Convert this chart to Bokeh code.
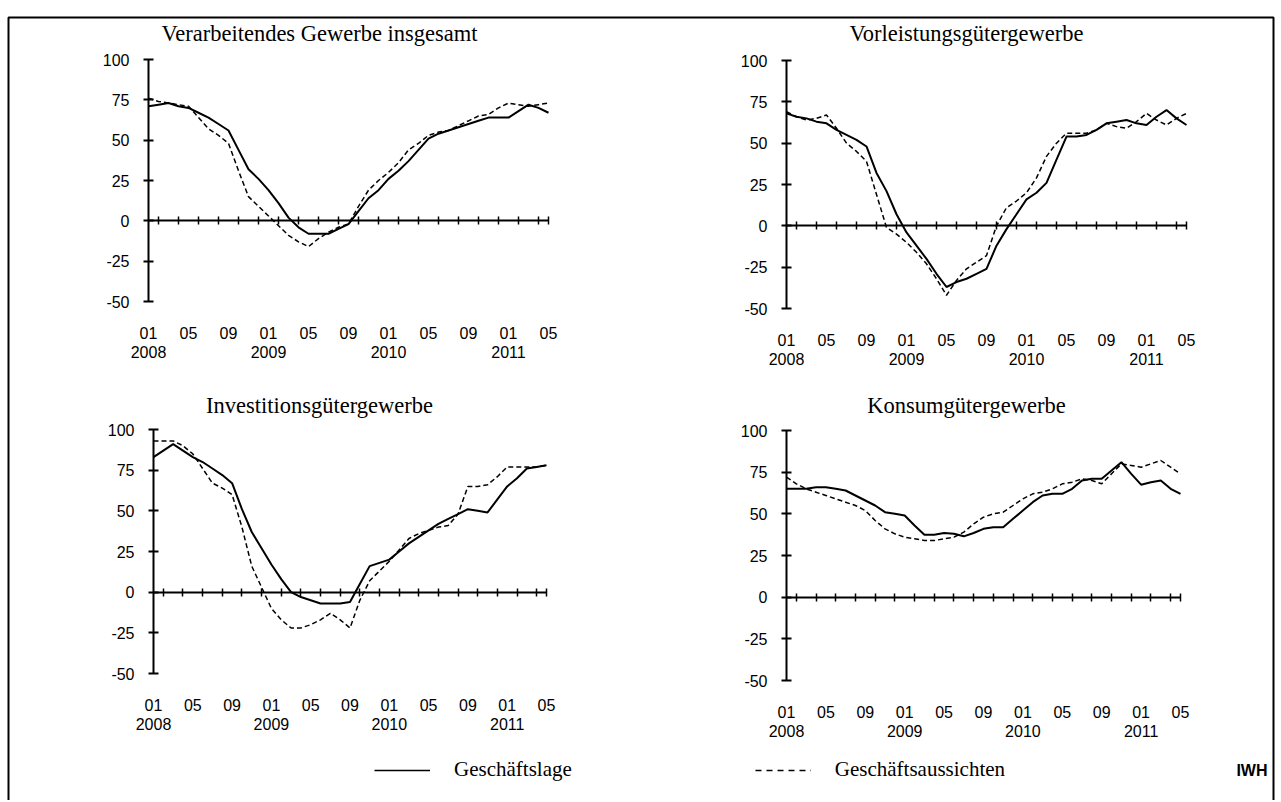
import numpy as np
from bokeh.plotting import figure
from bokeh.models import (Range1d, LinearAxis, FixedTicker, Label, Legend,
                          LegendItem, BoxAnnotation)
from bokeh.embed import file_html
from bokeh.resources import INLINE

# ---------------- data ----------------
# month index: 0 = Jan 2008 ... 40 = May 2011
MONTHS = list(range(41))
MONTH_TICKS = [0, 4, 8, 12, 16, 20, 24, 28, 32, 36, 40]
MONTH_LABELS = ["01", "05", "09", "01", "05", "09", "01", "05", "09", "01", "05"]
YEAR_TICKS = [0, 12, 24, 36]
YEAR_LABELS = ["2008", "2009", "2010", "2011"]
Y_TICKS = [-50, -25, 0, 25, 50, 75, 100]
ZERO_TICKS = [1, 3, 5, 7, 9, 11, 13, 15, 17, 19, 21, 23, 25, 27, 29, 31, 33, 35, 37, 39, 40]

TITLES = ["Verarbeitendes Gewerbe insgesamt", "Vorleistungsgütergewerbe",
          "Investitionsgütergewerbe", "Konsumgütergewerbe"]
SERIES_NAMES = ["Geschäftslage", "Geschäftsaussichten"]

LAGE_VG = [71, 72, 73, 71, 70, 67, 64, 60, 56, 44, 32, 26, 19, 11, 2, -4, -8, -8, -8, -5,
           -2, 6, 14, 19, 26, 31, 37, 44, 51, 54, 56, 58, 60, 62, 64, 64, 64, 68, 72, 70, 67]
AUS_VG = [76, 74, 73, 72, 71, 64, 57, 53, 48, 31, 15, 9, 3, -3, -9, -13, -16, -11, -7, -4,
          -2, 9, 19, 25, 30, 36, 44, 48, 53, 55, 56, 59, 62, 65, 66, 70, 73, 72, 71, 72, 73]

LAGE_VL = [68, 66, 65, 63, 62, 58, 55, 52, 48, 32, 21, 7, -4, -12, -20, -29, -37, -34, -32, -29,
           -26, -12, -2, 7, 16, 20, 26, 40, 54, 54, 55, 58, 62, 63, 64, 62, 61, 66, 70, 65, 61]
AUS_VL = [69, 66, 64, 65, 67, 59, 50, 45, 39, 19, -1, -5, -10, -16, -23, -32, -42, -33, -26, -22,
          -18, 0, 11, 15, 20, 29, 42, 50, 56, 56, 56, 58, 62, 60, 59, 63, 68, 64, 61, 65, 68]

LAGE_IG = [83, 87, 91, 87, 83, 80, 76, 72, 67, 51, 37, 27, 17, 8, 0, -3, -5, -7, -7, -7,
           -6, 5, 16, 18, 20, 25, 30, 34, 38, 42, 45, 48, 51, 50, 49, 57, 65, 70, 76, 77, 78]
AUS_IG = [93, 93, 93, 90, 85, 76, 67, 64, 60, 40, 16, 3, -10, -17, -22, -22, -20, -17, -13, -17,
          -22, -5, 7, 13, 19, 26, 33, 36, 38, 40, 41, 48, 65, 65, 66, 71, 77, 77, 77, 77, 78]

LAGE_KG = [65, 65, 65, 66, 66, 65, 64, 61, 58, 55, 51, 50, 49, 43, 37.5, 37.5, 38.5, 38, 36.5, 38.5,
           41, 42, 42, 47, 52, 57, 61, 62, 62, 65, 70, 71, 71, 76, 81, 74, 67.5, 69, 70, 65, 62]
AUS_KG = [72, 68, 65, 63, 61, 59, 57, 55, 52, 46, 41, 38, 36, 35, 34, 34, 35, 36, 39, 44,
          48, 50, 51, 55, 59, 62, 63, 65, 68, 69, 71, 70, 68, 74, 80, 79, 78, 80, 82, 78, 74]

LAGE = [LAGE_VG, LAGE_VL, LAGE_IG, LAGE_KG]
AUS = [AUS_VG, AUS_VL, AUS_IG, AUS_KG]

# ---------------- layout (pixels) ----------------
W, H = 1276, 800
# L/R: x of first/last month, T/B: y of 100 / -50, (tx, ty): title centre
PANELS = [
    dict(L=148, R=548, T=59, B=301, tx=319, ty=33),
    dict(L=786, R=1186, T=60, B=308, tx=966, ty=33),
    dict(L=153, R=546, T=429, B=673, tx=319, ty=405),
    dict(L=786, R=1180, T=430, B=680, tx=966, ty=405),
]

TICK_FONT = "Liberation Sans"
TEXT_FONT = "Liberation Serif"
TICK_SIZE = "16px"

p = figure(width=W, height=H, x_range=Range1d(0, W), y_range=Range1d(H, 0),
           x_axis_type=None, y_axis_type=None, toolbar_location=None,
           output_backend="svg", min_border=0)
p.outline_line_color = None
p.background_fill_color = "white"
p.border_fill_color = "white"

for i, g in enumerate(PANELS):
    xn, yn = f"x{i}", f"y{i}"
    n_months = MONTHS[-1] - MONTHS[0]
    k = (g["R"] - g["L"]) / n_months
    xs = MONTHS[0] - g["L"] / k
    p.extra_x_ranges[xn] = Range1d(xs, xs + W / k)
    span = Y_TICKS[-1] - Y_TICKS[0]
    ky = (g["B"] - g["T"]) / span
    p.extra_y_ranges[yn] = Range1d(Y_TICKS[-1] - (H - g["T"]) / ky, Y_TICKS[-1] + g["T"] / ky)

    # y axis
    yax = LinearAxis(x_range_name=xn, y_range_name=yn, fixed_location=MONTHS[0],
                     bounds=(Y_TICKS[0], Y_TICKS[-1]),
                     ticker=FixedTicker(ticks=Y_TICKS),
                     major_label_overrides={t: str(t) for t in Y_TICKS})
    yax.axis_line_width = 2
    yax.major_tick_line_width = 2
    yax.major_tick_in = 5
    yax.major_tick_out = 5
    yax.minor_tick_line_color = None
    yax.major_label_standoff = 14
    yax.major_label_text_font = TICK_FONT
    yax.major_label_text_font_size = TICK_SIZE
    yax.major_label_text_color = "black"
    p.add_layout(yax, "left")

    # zero line axis with crossing ticks
    zax = LinearAxis(x_range_name=xn, y_range_name=yn, fixed_location=0,
                     bounds=(MONTHS[0], MONTHS[-1]),
                     ticker=FixedTicker(ticks=ZERO_TICKS),
                     major_label_overrides={t: "" for t in ZERO_TICKS})
    zax.axis_line_width = 2
    zax.major_tick_line_width = 1.5
    zax.major_tick_in = 4
    zax.major_tick_out = 4
    zax.minor_tick_line_color = None
    p.add_layout(zax, "below")

    # month labels
    max_ = LinearAxis(x_range_name=xn, y_range_name=yn, fixed_location=Y_TICKS[0],
                      bounds=(MONTHS[0], MONTHS[-1]),
                      ticker=FixedTicker(ticks=MONTH_TICKS),
                      major_label_overrides=dict(zip(MONTH_TICKS, MONTH_LABELS)))
    max_.axis_line_color = None
    max_.major_tick_line_color = None
    max_.minor_tick_line_color = None
    max_.major_tick_in = 0
    max_.major_tick_out = 0
    max_.major_label_standoff = 25
    max_.major_label_text_font = TICK_FONT
    max_.major_label_text_font_size = TICK_SIZE
    max_.major_label_text_color = "black"
    p.add_layout(max_, "below")

    # year labels
    yrax = LinearAxis(x_range_name=xn, y_range_name=yn, fixed_location=Y_TICKS[0],
                      bounds=(MONTHS[0], MONTHS[-1]),
                      ticker=FixedTicker(ticks=YEAR_TICKS),
                      major_label_overrides=dict(zip(YEAR_TICKS, YEAR_LABELS)))
    yrax.axis_line_color = None
    yrax.major_tick_line_color = None
    yrax.minor_tick_line_color = None
    yrax.major_tick_in = 0
    yrax.major_tick_out = 0
    yrax.major_label_standoff = 44
    yrax.major_label_text_font = TICK_FONT
    yrax.major_label_text_font_size = TICK_SIZE
    yrax.major_label_text_color = "black"
    p.add_layout(yrax, "below")

    p.line(MONTHS, LAGE[i], x_range_name=xn, y_range_name=yn,
           line_color="black", line_width=2)
    p.line(MONTHS, AUS[i], x_range_name=xn, y_range_name=yn,
           line_color="black", line_width=1.5, line_dash="5 3")

    p.add_layout(Label(x=g["tx"], y=g["ty"], text=TITLES[i], text_align="center",
                       text_baseline="middle", text_font=TEXT_FONT,
                       text_font_size="22.5px", text_color="black"))

# legend key renderers: a single point each (draws nothing in the plot),
# they only carry the line style shown in the key
leg_solid = p.line(MONTHS[:1], LAGE_VG[:1], x_range_name="x0", y_range_name="y0",
                   line_color="black", line_width=1.5)
leg_dash = p.line(MONTHS[:1], AUS_VG[:1], x_range_name="x0", y_range_name="y0",
                  line_color="black", line_width=1.5, line_dash="6 5")

legend = Legend(items=[LegendItem(label=SERIES_NAMES[0], renderers=[leg_solid]),
                       LegendItem(label=SERIES_NAMES[1], renderers=[leg_dash])],
                orientation="horizontal", location=(374, 18),
                glyph_width=56, glyph_height=20, label_standoff=24, spacing=183,
                padding=0, margin=0, border_line_color=None, background_fill_alpha=0,
                label_text_font=TEXT_FONT, label_text_font_size="21px",
                label_text_color="black")
p.add_layout(legend)

p.add_layout(Label(x=1267, y=770, text="IWH", text_align="right", text_baseline="middle",
                   text_font=TICK_FONT, text_font_size="16px", text_font_style="bold",
                   text_color="black"))

p.add_layout(BoxAnnotation(left=8, right=1273, top=17, bottom=820, fill_alpha=0,
                           line_color="black", line_alpha=1, line_width=2))

open("out.html", "w").write(file_html(p, INLINE))
